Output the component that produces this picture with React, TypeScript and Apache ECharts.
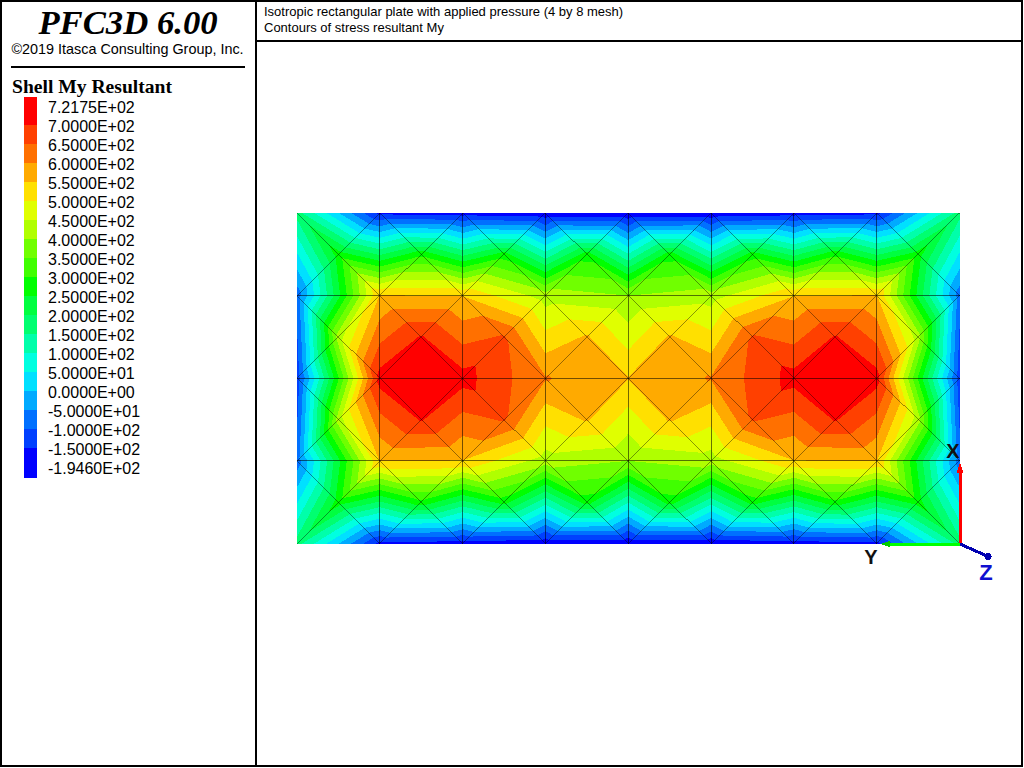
import React, { useEffect, useRef } from "react";
import * as echarts from "echarts";

const title = "PFC3D 6.00";
const copyright = "©2019 Itasca Consulting Group, Inc.";
const legendTitle = "Shell My Resultant";
const headerLines = [
  "Isotropic rectangular plate with applied pressure (4 by 8 mesh)",
  "Contours of stress resultant My",
];
const legendLabels = [
  "7.2175E+02", "7.0000E+02", "6.5000E+02", "6.0000E+02", "5.5000E+02",
  "5.0000E+02", "4.5000E+02", "4.0000E+02", "3.5000E+02", "3.0000E+02",
  "2.5000E+02", "2.0000E+02", "1.5000E+02", "1.0000E+02", "5.0000E+01",
  "0.0000E+00", "-5.0000E+01", "-1.0000E+02", "-1.5000E+02", "-1.9460E+02",
];
// Lower limit of every contour band, from the lowest band upward.
const bandLevels = [-194.6, -150, -100, -50, 0, 50, 100, 150, 200, 250, 300, 350, 400, 450, 500, 550, 600, 650, 700];
const bandColors = [
  "#0000ff", "#0040ff", "#0070ff", "#00aaff", "#00e0ff", "#00ffe0", "#00ffaa", "#00ff70", "#00ff40", "#00ff00",
  "#40ff00", "#70ff00", "#b0ff00", "#e0ff00", "#ffe000", "#ffaa00", "#ff7000", "#ff4000", "#ff0000",
];
// Values at the mesh's corner nodes, row by row from the top edge.
const cornerRow0 = [170, -165, -175, -190, -194, -190, -175, -165, 170];
const cornerRow1 = [-80, 552, 548, 425, 400, 425, 548, 552, -80];
const cornerRow2 = [-130, 721, 720, 604, 552, 604, 720, 721, -130];
const cornerRow3 = [-80, 552, 548, 425, 400, 425, 548, 552, -80];
const cornerRow4 = [170, -165, -175, -190, -194, -190, -175, -165, 170];
// Values at the nodes in the middle of each mesh cell.
const centerRow0 = [275, 285, 272, 275, 275, 272, 285, 275];
const centerRow1 = [425, 705, 655, 556, 556, 655, 705, 425];
const centerRow2 = [425, 705, 655, 556, 556, 655, 705, 425];
const centerRow3 = [275, 285, 272, 275, 275, 272, 285, 275];

const cornerRows = [cornerRow0, cornerRow1, cornerRow2, cornerRow3, cornerRow4];
const centerRows = [centerRow0, centerRow1, centerRow2, centerRow3];

type P = [number, number, number];

function buildTriangles(): number[][] {
  const out: number[][] = [];
  for (let r = 0; r < 4; r++) {
    for (let c = 0; c < 8; c++) {
      const a: P = [c, r, cornerRows[r][c]];
      const b: P = [c + 1, r, cornerRows[r][c + 1]];
      const d: P = [c + 1, r + 1, cornerRows[r + 1][c + 1]];
      const e: P = [c, r + 1, cornerRows[r + 1][c]];
      const m: P = [c + 0.5, r + 0.5, centerRows[r][c]];
      out.push([...a, ...b, ...m], [...b, ...d, ...m], [...d, ...e, ...m], [...e, ...a, ...m]);
    }
  }
  return out;
}

function buildSegments(): number[][] {
  const out: number[][] = [];
  for (let r = 1; r < 4; r++) out.push([0, r, 8, r]);
  for (let c = 1; c < 8; c++) out.push([c, 0, c, 4]);
  for (let r = 0; r < 4; r++) {
    for (let c = 0; c < 8; c++) {
      out.push([c, r, c + 1, r + 1], [c + 1, r, c, r + 1]);
    }
  }
  return out;
}

function clipAbove(tri: P[], level: number): P[] {
  const res: P[] = [];
  for (let i = 0; i < tri.length; i++) {
    const p = tri[i];
    const q = tri[(i + 1) % tri.length];
    const pIn = p[2] >= level;
    const qIn = q[2] >= level;
    if (pIn) res.push(p);
    if (pIn !== qIn) {
      const t = (level - p[2]) / (q[2] - p[2]);
      res.push([p[0] + t * (q[0] - p[0]), p[1] + t * (q[1] - p[1]), level]);
    }
  }
  return res;
}

const renderTriangle = (_: any, api: any) => {
  const tri: P[] = [0, 3, 6].map((k) => [api.value(k), api.value(k + 1), api.value(k + 2)] as P);
  const children: any[] = [];
  bandLevels.forEach((level, i) => {
    const poly = i === 0 ? tri : clipAbove(tri, level);
    if (poly.length < 3) return;
    children.push({
      type: "polygon",
      shape: { points: poly.map((p) => api.coord([p[0], p[1]])) },
      style: { fill: bandColors[i] },
    });
  });
  return { type: "group", children };
};

const renderSegment = (_: any, api: any) => {
  const a = api.coord([api.value(0), api.value(1)]);
  const b = api.coord([api.value(2), api.value(3)]);
  const diagonal = api.value(0) !== api.value(2) && api.value(1) !== api.value(3);
  return {
    type: "line",
    shape: { x1: a[0], y1: a[1], x2: b[0], y2: b[1] },
    style: diagonal
      ? { stroke: "rgba(0,0,0,0.5)", lineWidth: 0.8 }
      : { stroke: "rgba(0,0,0,0.55)", lineWidth: 1 },
  };
};

function legendGraphics(): any[] {
  const out: any[] = [];
  const n = bandColors.length;
  const left = 24;
  const w = 13;
  const top = 97;
  const first = 125;
  const step = 19;
  const bottom = 478;
  for (let k = 0; k < n; k++) {
    const y0 = k === 0 ? top : first + (k - 1) * step;
    const y1 = k === n - 1 ? bottom : first + k * step;
    out.push({
      type: "rect",
      shape: { x: left, y: y0, width: w, height: y1 - y0 },
      style: { fill: bandColors[n - 1 - k] },
      z: 50,
    });
  }
  legendLabels.forEach((t, i) => {
    out.push({
      type: "text",
      x: 48,
      y: 107 + i * 19,
      style: { text: t, font: "16px 'Liberation Sans'", fill: "#000", textVerticalAlign: "middle", textAlign: "left" },
      z: 50,
    });
  });
  return out;
}

function frameGraphics(): any[] {
  const black = { fill: "#000" };
  const bars = [
    [0, 0, 1023, 2],
    [0, 765, 1023, 2],
    [0, 0, 2, 767],
    [1021, 0, 2, 767],
    [255, 0, 2, 767],
    [255, 40, 768, 2],
    [11, 66, 234, 2],
  ];
  return bars.map(([x, y, width, height]) => ({ type: "rect", shape: { x, y, width, height }, style: black, z: 60 }));
}

function textGraphics(): any[] {
  return [
    {
      type: "text", x: 128, y: 22, z: 60,
      style: { text: title, font: "italic bold 34.7px 'Liberation Serif'", fill: "#000", textAlign: "center", textVerticalAlign: "middle" },
    },
    {
      type: "text", x: 127.5, y: 49, z: 60,
      style: { text: copyright, font: "14.4px 'Liberation Sans'", fill: "#000", textAlign: "center", textVerticalAlign: "middle" },
    },
    {
      type: "text", x: 12, y: 86, z: 60,
      style: { text: legendTitle, font: "bold 19.6px 'Liberation Serif'", fill: "#000", textAlign: "left", textVerticalAlign: "middle" },
    },
    ...headerLines.map((t, i) => ({
      type: "text", x: 264, y: 11 + i * 16.5, z: 60,
      style: { text: t, font: "13px 'Liberation Sans'", fill: "#000", textAlign: "left", textVerticalAlign: "middle" },
    })),
  ];
}

function triadGraphics(): any[] {
  const ox = 960;
  const oy = 544;
  const z = 70;
  const label = (text: string, x: number, y: number, fill: string, size: number) => ({
    type: "text", x, y, z,
    style: { text, font: `bold ${size}px 'Liberation Sans'`, fill, textAlign: "center", textVerticalAlign: "middle" },
  });
  return [
    { type: "line", z, shape: { x1: ox, y1: oy, x2: ox, y2: 468 }, style: { stroke: "#ff0000", lineWidth: 3 } },
    { type: "polygon", z, shape: { points: [[ox, 463], [ox + 3.5, 473], [ox - 3.5, 473]] }, style: { fill: "#ff0000" } },
    { type: "line", z, shape: { x1: ox, y1: oy, x2: 886, y2: oy }, style: { stroke: "#00ff00", lineWidth: 3 } },
    { type: "polygon", z, shape: { points: [[880, oy], [890, oy - 3], [890, oy + 3]] }, style: { fill: "#00cc00" } },
    { type: "line", z, shape: { x1: ox, y1: oy, x2: 987, y2: 556 }, style: { stroke: "#0000b0", lineWidth: 3 } },
    { type: "circle", z, shape: { cx: 988, cy: 556.5, r: 3.5 }, style: { fill: "#0000b0" } },
    label("X", 953, 451, "#111", 20),
    label("Y", 871, 557, "#111", 20),
    label("Z", 986, 572, "#1010d0", 22),
  ];
}

export default function App() {
  const ref = useRef<HTMLDivElement>(null);
  useEffect(() => {
    const chart = echarts.init(ref.current!, undefined, { renderer: "svg" });
    chart.setOption({
      animation: false,
      backgroundColor: "#fff",
      grid: { left: 297, top: 213, width: 662.5, height: 330.5, containLabel: false },
      xAxis: { type: "value", min: 0, max: 8, show: false },
      yAxis: { type: "value", min: 0, max: 4, inverse: true, show: false },
      graphic: { elements: [...frameGraphics(), ...textGraphics(), ...legendGraphics(), ...triadGraphics()] },
      series: [
        {
          type: "custom",
          silent: true,
          clip: false,
          renderItem: renderTriangle,
          data: buildTriangles(),
          encode: { x: 0, y: 1 },
          z: 2,
        },
        {
          type: "custom",
          silent: true,
          clip: false,
          renderItem: renderSegment,
          data: buildSegments(),
          encode: { x: 0, y: 1 },
          z: 3,
        },
      ],
    });
    return () => chart.dispose();
  }, []);
  return (
    <>
      <style>{"html,body{margin:0;padding:0;overflow:hidden;background:#fff} svg path{shape-rendering:crispEdges}"}</style>
      <div ref={ref} style={{ width: 1024, height: 768 }} />
    </>
  );
}
